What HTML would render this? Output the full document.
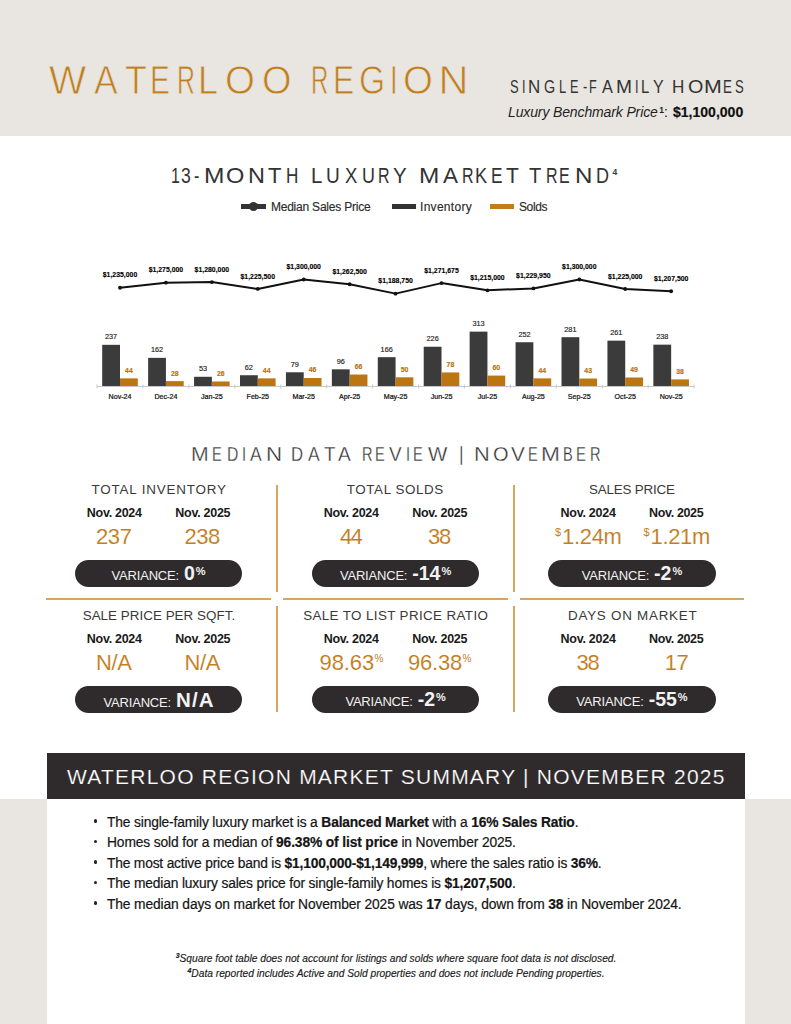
<!DOCTYPE html>
<html><head><meta charset="utf-8"><style>
*{margin:0;padding:0;box-sizing:border-box}
html,body{width:791px;height:1024px;overflow:hidden;background:#fff;font-family:"Liberation Sans",sans-serif}
.t{position:absolute;white-space:nowrap;line-height:1}
.hdr{position:absolute;left:0;top:0;width:791px;height:136px;background:#e9e6e1}
.gb{position:absolute;left:0;top:799px;width:791px;height:225px;background:#e9e6e1}
.wb{position:absolute;left:47px;top:799px;width:698px;height:225px;background:#fff}
.ban{position:absolute;left:47px;top:752.6px;width:698px;height:46.6px;background:#2f2b2c}
.vd{position:absolute;width:2px;background:#d9a45e}
.hd{position:absolute;height:2px;background:#d9a45e}
.pill{position:absolute;width:167.5px;height:27px;border-radius:13.5px;background:#2f2b2c;color:#f2f2f2;display:flex;justify-content:center;align-items:baseline;padding-top:4px;line-height:1}
.vl{font-size:13px;letter-spacing:-0.2px;margin-right:5px}
.vv{font-size:19.5px;font-weight:bold}
.pc{font-size:11px;font-weight:bold;position:relative;top:-5px;margin-left:1px}
svg text{font-family:"Liberation Sans",sans-serif;text-anchor:middle}
.pl{font-size:6.9px;font-weight:bold;fill:#000;stroke:#000;stroke-width:0.12px}
.bl{font-size:7.3px;font-weight:normal;fill:#222;stroke:#222;stroke-width:0.15px}
.sl{font-size:6.9px;font-weight:bold;fill:#b8720e;stroke:#b8720e;stroke-width:0.15px}
.cl{font-size:7.1px;fill:#111;stroke:#111;stroke-width:0.22px}
.sup{position:absolute;line-height:1;white-space:nowrap}
.bdot{position:absolute;left:93.8px;width:3.4px;height:3.4px;border-radius:50%;background:#222}
.bul{position:absolute;left:107px;font-size:13.8px;line-height:1;color:#151515;-webkit-text-stroke:0.2px #151515;white-space:nowrap}
.bul b{font-weight:bold}
.fn{position:absolute;left:47px;width:698px;text-align:center;font-size:10.23px;font-style:italic;color:#1a1a1a;-webkit-text-stroke:0.15px #1a1a1a;line-height:1;white-space:nowrap}
</style></head><body>
<div class="hdr"></div>
<div class="gb"></div><div class="wb"></div>
<div class="ban"></div>
<div class="t" style="left:508.00px;top:105.38px;font-size:14px;font-weight:normal;font-style:italic;color:#1f1f1f;letter-spacing:-0.129px;">Luxury Benchmark Price</div>
<div class="t" style="left:664.00px;top:105.38px;font-size:14px;font-weight:normal;font-style:normal;color:#1f1f1f;letter-spacing:0.000px;">:</div>
<div class="t" style="left:673.00px;top:105.38px;font-size:14px;font-weight:bold;font-style:normal;color:#111;letter-spacing:0.013px;-webkit-text-stroke:0.2px #111;">$1,100,000</div>
<div class="t" style="left:659.30px;top:105.65px;font-size:8.5px;font-weight:bold;font-style:normal;color:#1f1f1f;letter-spacing:0.000px;">1</div>
<div class="t" style="left:612.50px;top:168.15px;font-size:8.5px;font-weight:bold;font-style:normal;color:#3a3939;letter-spacing:0.000px;">4</div>
<div class="t" style="left:270.90px;top:200.70px;font-size:12px;font-weight:normal;font-style:normal;color:#2a2a2a;letter-spacing:-0.212px;-webkit-text-stroke:0.15px #2a2a2a;">Median Sales Price</div>
<div class="t" style="left:420.00px;top:200.70px;font-size:12px;font-weight:normal;font-style:normal;color:#2a2a2a;letter-spacing:0.293px;-webkit-text-stroke:0.15px #2a2a2a;">Inventory</div>
<div class="t" style="left:519.00px;top:200.70px;font-size:12px;font-weight:normal;font-style:normal;color:#2a2a2a;letter-spacing:-0.379px;-webkit-text-stroke:0.15px #2a2a2a;">Solds</div>
<div class="t" style="left:91.50px;top:483.28px;font-size:13.4px;font-weight:normal;font-style:normal;color:#3a3939;letter-spacing:0.833px;">TOTAL INVENTORY</div>
<div class="t" style="left:346.80px;top:483.28px;font-size:13.4px;font-weight:normal;font-style:normal;color:#3a3939;letter-spacing:0.590px;">TOTAL SOLDS</div>
<div class="t" style="left:589.00px;top:483.28px;font-size:13.4px;font-weight:normal;font-style:normal;color:#3a3939;letter-spacing:-0.189px;">SALES PRICE</div>
<div class="t" style="left:82.70px;top:608.68px;font-size:13.4px;font-weight:normal;font-style:normal;color:#3a3939;letter-spacing:0.033px;">SALE PRICE PER SQFT.</div>
<div class="t" style="left:303.20px;top:608.68px;font-size:13.4px;font-weight:normal;font-style:normal;color:#3a3939;letter-spacing:0.375px;">SALE TO LIST PRICE RATIO</div>
<div class="t" style="left:568.00px;top:608.68px;font-size:13.4px;font-weight:normal;font-style:normal;color:#3a3939;letter-spacing:0.760px;">DAYS ON MARKET</div>
<div class="t" style="left:86.80px;top:507.12px;font-size:12.5px;font-weight:bold;font-style:normal;color:#1a1a1a;letter-spacing:-0.286px;">Nov. 2024</div>
<div class="t" style="left:175.30px;top:507.12px;font-size:12.5px;font-weight:bold;font-style:normal;color:#1a1a1a;letter-spacing:-0.274px;">Nov. 2025</div>
<div class="t" style="left:323.70px;top:507.12px;font-size:12.5px;font-weight:bold;font-style:normal;color:#1a1a1a;letter-spacing:-0.274px;">Nov. 2024</div>
<div class="t" style="left:412.20px;top:507.12px;font-size:12.5px;font-weight:bold;font-style:normal;color:#1a1a1a;letter-spacing:-0.274px;">Nov. 2025</div>
<div class="t" style="left:560.60px;top:507.12px;font-size:12.5px;font-weight:bold;font-style:normal;color:#1a1a1a;letter-spacing:-0.274px;">Nov. 2024</div>
<div class="t" style="left:649.00px;top:507.12px;font-size:12.5px;font-weight:bold;font-style:normal;color:#1a1a1a;letter-spacing:-0.349px;">Nov. 2025</div>
<div class="t" style="left:86.80px;top:632.52px;font-size:12.5px;font-weight:bold;font-style:normal;color:#1a1a1a;letter-spacing:-0.286px;">Nov. 2024</div>
<div class="t" style="left:175.30px;top:632.52px;font-size:12.5px;font-weight:bold;font-style:normal;color:#1a1a1a;letter-spacing:-0.274px;">Nov. 2025</div>
<div class="t" style="left:323.70px;top:632.52px;font-size:12.5px;font-weight:bold;font-style:normal;color:#1a1a1a;letter-spacing:-0.274px;">Nov. 2024</div>
<div class="t" style="left:412.20px;top:632.52px;font-size:12.5px;font-weight:bold;font-style:normal;color:#1a1a1a;letter-spacing:-0.274px;">Nov. 2025</div>
<div class="t" style="left:560.60px;top:632.52px;font-size:12.5px;font-weight:bold;font-style:normal;color:#1a1a1a;letter-spacing:-0.274px;">Nov. 2024</div>
<div class="t" style="left:649.00px;top:632.52px;font-size:12.5px;font-weight:bold;font-style:normal;color:#1a1a1a;letter-spacing:-0.349px;">Nov. 2025</div>
<div class="t" style="left:96.00px;top:525.92px;font-size:22px;font-weight:normal;font-style:normal;color:#c47d1a;letter-spacing:-0.385px;-webkit-text-stroke:0.1px #fff;">237</div>
<div class="t" style="left:184.40px;top:525.92px;font-size:22px;font-weight:normal;font-style:normal;color:#c47d1a;letter-spacing:-0.435px;-webkit-text-stroke:0.1px #fff;">238</div>
<div class="t" style="left:340.00px;top:525.92px;font-size:22px;font-weight:normal;font-style:normal;color:#c47d1a;letter-spacing:-1.635px;-webkit-text-stroke:0.1px #fff;">44</div>
<div class="t" style="left:428.00px;top:525.92px;font-size:22px;font-weight:normal;font-style:normal;color:#c47d1a;letter-spacing:-1.235px;-webkit-text-stroke:0.1px #fff;">38</div>
<div class="t" style="left:562.00px;top:525.92px;font-size:22px;font-weight:normal;font-style:normal;color:#c47d1a;letter-spacing:-0.305px;-webkit-text-stroke:0.1px #fff;">1.24m</div>
<div class="t" style="left:650.50px;top:525.92px;font-size:22px;font-weight:normal;font-style:normal;color:#c47d1a;letter-spacing:-0.330px;-webkit-text-stroke:0.1px #fff;">1.21m</div>
<div class="t" style="left:95.90px;top:652.22px;font-size:22px;font-weight:normal;font-style:normal;color:#c47d1a;letter-spacing:-0.300px;-webkit-text-stroke:0.1px #fff;">N/A</div>
<div class="t" style="left:184.40px;top:652.22px;font-size:22px;font-weight:normal;font-style:normal;color:#c47d1a;letter-spacing:-0.300px;-webkit-text-stroke:0.1px #fff;">N/A</div>
<div class="t" style="left:319.60px;top:652.22px;font-size:22px;font-weight:normal;font-style:normal;color:#c47d1a;letter-spacing:-0.105px;-webkit-text-stroke:0.1px #fff;">98.63</div>
<div class="t" style="left:408.00px;top:652.22px;font-size:22px;font-weight:normal;font-style:normal;color:#c47d1a;letter-spacing:-0.205px;-webkit-text-stroke:0.1px #fff;">96.38</div>
<div class="t" style="left:576.40px;top:652.22px;font-size:22px;font-weight:normal;font-style:normal;color:#c47d1a;letter-spacing:-1.235px;-webkit-text-stroke:0.1px #fff;">38</div>
<div class="t" style="left:664.80px;top:652.22px;font-size:22px;font-weight:normal;font-style:normal;color:#c47d1a;letter-spacing:-0.435px;-webkit-text-stroke:0.1px #fff;">17</div>
<div class="t" style="left:67.00px;top:765.67px;font-size:21px;font-weight:normal;font-style:normal;color:#ffffff;letter-spacing:1.237px;-webkit-text-stroke:0.2px #2f2b2c;">WATERLOO REGION MARKET SUMMARY | NOVEMBER 2025</div>
<div class="t" style="left:170.52px;top:165.48px;font-size:22.2px;color:#333;transform:scaleX(0.720);transform-origin:0 0;">1</div>
<div class="t" style="left:180.80px;top:165.48px;font-size:22.2px;color:#333;transform:scaleX(0.792);transform-origin:0 0;">3</div>
<div class="t" style="left:194.38px;top:165.48px;font-size:22.2px;color:#333;transform:scaleX(0.720);transform-origin:0 0;">-</div>
<div class="t" style="left:203.69px;top:165.48px;font-size:22.2px;color:#333;transform:scaleX(1.106);transform-origin:0 0;">M</div>
<div class="t" style="left:225.94px;top:165.48px;font-size:22.2px;color:#333;transform:scaleX(1.062);transform-origin:0 0;">O</div>
<div class="t" style="left:247.94px;top:165.48px;font-size:22.2px;color:#333;transform:scaleX(1.057);transform-origin:0 0;">N</div>
<div class="t" style="left:268.30px;top:165.48px;font-size:22.2px;color:#333;transform:scaleX(0.993);transform-origin:0 0;">T</div>
<div class="t" style="left:286.43px;top:165.48px;font-size:22.2px;color:#333;transform:scaleX(0.771);transform-origin:0 0;">H</div>
<div class="t" style="left:310.98px;top:165.48px;font-size:22.2px;color:#333;transform:scaleX(0.918);transform-origin:0 0;">L</div>
<div class="t" style="left:326.14px;top:165.48px;font-size:22.2px;color:#333;transform:scaleX(0.857);transform-origin:0 0;">U</div>
<div class="t" style="left:345.20px;top:165.48px;font-size:22.2px;color:#333;transform:scaleX(0.833);transform-origin:0 0;">X</div>
<div class="t" style="left:361.99px;top:165.48px;font-size:22.2px;color:#333;transform:scaleX(0.807);transform-origin:0 0;">U</div>
<div class="t" style="left:378.49px;top:165.48px;font-size:22.2px;color:#333;transform:scaleX(0.720);transform-origin:0 0;">R</div>
<div class="t" style="left:392.50px;top:165.48px;font-size:22.2px;color:#333;transform:scaleX(0.927);transform-origin:0 0;">Y</div>
<div class="t" style="left:418.50px;top:165.48px;font-size:22.2px;color:#333;transform:scaleX(1.100);transform-origin:0 0;">M</div>
<div class="t" style="left:442.60px;top:165.48px;font-size:22.2px;color:#333;transform:scaleX(1.013);transform-origin:0 0;">A</div>
<div class="t" style="left:462.09px;top:165.48px;font-size:22.2px;color:#333;transform:scaleX(0.720);transform-origin:0 0;">R</div>
<div class="t" style="left:475.18px;top:165.48px;font-size:22.2px;color:#333;transform:scaleX(0.821);transform-origin:0 0;">K</div>
<div class="t" style="left:491.12px;top:165.48px;font-size:22.2px;color:#333;transform:scaleX(0.777);transform-origin:0 0;">E</div>
<div class="t" style="left:505.80px;top:165.48px;font-size:22.2px;color:#333;transform:scaleX(0.950);transform-origin:0 0;">T</div>
<div class="t" style="left:529.40px;top:165.48px;font-size:22.2px;color:#333;transform:scaleX(0.907);transform-origin:0 0;">T</div>
<div class="t" style="left:546.14px;top:165.48px;font-size:22.2px;color:#333;transform:scaleX(0.720);transform-origin:0 0;">R</div>
<div class="t" style="left:559.08px;top:165.48px;font-size:22.2px;color:#333;transform:scaleX(0.723);transform-origin:0 0;">E</div>
<div class="t" style="left:575.11px;top:165.48px;font-size:22.2px;color:#333;transform:scaleX(1.086);transform-origin:0 0;">N</div>
<div class="t" style="left:596.19px;top:165.48px;font-size:22.2px;color:#333;transform:scaleX(0.814);transform-origin:0 0;">D</div>
<div class="t" style="left:190.95px;top:443.58px;font-size:20.3px;color:#333;transform:scaleX(1.047);transform-origin:0 0;-webkit-text-stroke:0.3px #fff">M</div>
<div class="t" style="left:211.81px;top:443.58px;font-size:20.3px;color:#333;transform:scaleX(0.720);transform-origin:0 0;-webkit-text-stroke:0.3px #fff">E</div>
<div class="t" style="left:226.62px;top:443.58px;font-size:20.3px;color:#333;transform:scaleX(0.777);transform-origin:0 0;-webkit-text-stroke:0.3px #fff">D</div>
<div class="t" style="left:242.05px;top:443.58px;font-size:20.3px;color:#333;transform:scaleX(0.720);transform-origin:0 0;-webkit-text-stroke:0.3px #fff">I</div>
<div class="t" style="left:249.70px;top:443.58px;font-size:20.3px;color:#333;transform:scaleX(0.864);transform-origin:0 0;-webkit-text-stroke:0.3px #fff">A</div>
<div class="t" style="left:265.90px;top:443.58px;font-size:20.3px;color:#333;transform:scaleX(1.100);transform-origin:0 0;-webkit-text-stroke:0.3px #fff">N</div>
<div class="t" style="left:291.48px;top:443.58px;font-size:20.3px;color:#333;transform:scaleX(0.823);transform-origin:0 0;-webkit-text-stroke:0.3px #fff">D</div>
<div class="t" style="left:308.00px;top:443.58px;font-size:20.3px;color:#333;transform:scaleX(0.864);transform-origin:0 0;-webkit-text-stroke:0.3px #fff">A</div>
<div class="t" style="left:323.70px;top:443.58px;font-size:20.3px;color:#333;transform:scaleX(0.925);transform-origin:0 0;-webkit-text-stroke:0.3px #fff">T</div>
<div class="t" style="left:338.00px;top:443.58px;font-size:20.3px;color:#333;transform:scaleX(0.943);transform-origin:0 0;-webkit-text-stroke:0.3px #fff">A</div>
<div class="t" style="left:361.70px;top:443.58px;font-size:20.3px;color:#333;transform:scaleX(0.720);transform-origin:0 0;-webkit-text-stroke:0.3px #fff">R</div>
<div class="t" style="left:374.96px;top:443.58px;font-size:20.3px;color:#333;transform:scaleX(0.720);transform-origin:0 0;-webkit-text-stroke:0.3px #fff">E</div>
<div class="t" style="left:388.60px;top:443.58px;font-size:20.3px;color:#333;transform:scaleX(0.936);transform-origin:0 0;-webkit-text-stroke:0.3px #fff">V</div>
<div class="t" style="left:405.50px;top:443.58px;font-size:20.3px;color:#333;transform:scaleX(0.720);transform-origin:0 0;-webkit-text-stroke:0.3px #fff">I</div>
<div class="t" style="left:412.76px;top:443.58px;font-size:20.3px;color:#333;transform:scaleX(0.720);transform-origin:0 0;-webkit-text-stroke:0.3px #fff">E</div>
<div class="t" style="left:427.70px;top:443.58px;font-size:20.3px;color:#333;transform:scaleX(1.010);transform-origin:0 0;-webkit-text-stroke:0.3px #fff">W</div>
<div class="t" style="left:459.13px;top:443.58px;font-size:20.3px;color:#333;transform:scaleX(0.867);transform-origin:0 0;-webkit-text-stroke:0.3px #fff">|</div>
<div class="t" style="left:474.43px;top:443.58px;font-size:20.3px;color:#333;transform:scaleX(1.075);transform-origin:0 0;-webkit-text-stroke:0.3px #fff">N</div>
<div class="t" style="left:493.10px;top:443.58px;font-size:20.3px;color:#333;transform:scaleX(0.987);transform-origin:0 0;-webkit-text-stroke:0.3px #fff">O</div>
<div class="t" style="left:511.00px;top:443.58px;font-size:20.3px;color:#333;transform:scaleX(1.021);transform-origin:0 0;-webkit-text-stroke:0.3px #fff">V</div>
<div class="t" style="left:528.01px;top:443.58px;font-size:20.3px;color:#333;transform:scaleX(0.720);transform-origin:0 0;-webkit-text-stroke:0.3px #fff">E</div>
<div class="t" style="left:541.38px;top:443.58px;font-size:20.3px;color:#333;transform:scaleX(1.120);transform-origin:0 0;-webkit-text-stroke:0.3px #fff">M</div>
<div class="t" style="left:563.21px;top:443.58px;font-size:20.3px;color:#333;transform:scaleX(0.720);transform-origin:0 0;-webkit-text-stroke:0.3px #fff">B</div>
<div class="t" style="left:576.17px;top:443.58px;font-size:20.3px;color:#333;transform:scaleX(0.733);transform-origin:0 0;-webkit-text-stroke:0.3px #fff">E</div>
<div class="t" style="left:589.80px;top:443.58px;font-size:20.3px;color:#333;transform:scaleX(0.720);transform-origin:0 0;-webkit-text-stroke:0.3px #fff">R</div>
<div class="t" style="left:510.00px;top:78.81px;font-size:17.6px;color:#333;transform:scaleX(0.736);transform-origin:0 0;">S</div>
<div class="t" style="left:521.65px;top:78.81px;font-size:17.6px;color:#333;transform:scaleX(0.720);transform-origin:0 0;">I</div>
<div class="t" style="left:528.34px;top:78.81px;font-size:17.6px;color:#333;transform:scaleX(0.964);transform-origin:0 0;">N</div>
<div class="t" style="left:544.40px;top:78.81px;font-size:17.6px;color:#333;transform:scaleX(0.815);transform-origin:0 0;">G</div>
<div class="t" style="left:559.37px;top:78.81px;font-size:17.6px;color:#333;transform:scaleX(0.733);transform-origin:0 0;">L</div>
<div class="t" style="left:570.43px;top:78.81px;font-size:17.6px;color:#333;transform:scaleX(0.720);transform-origin:0 0;">E</div>
<div class="t" style="left:582.64px;top:78.81px;font-size:17.6px;color:#333;transform:scaleX(0.720);transform-origin:0 0;">-</div>
<div class="t" style="left:589.33px;top:78.81px;font-size:17.6px;color:#333;transform:scaleX(0.720);transform-origin:0 0;">F</div>
<div class="t" style="left:602.30px;top:78.81px;font-size:17.6px;color:#333;transform:scaleX(0.925);transform-origin:0 0;">A</div>
<div class="t" style="left:616.31px;top:78.81px;font-size:17.6px;color:#333;transform:scaleX(1.092);transform-origin:0 0;">M</div>
<div class="t" style="left:634.85px;top:78.81px;font-size:17.6px;color:#333;transform:scaleX(0.720);transform-origin:0 0;">I</div>
<div class="t" style="left:640.86px;top:78.81px;font-size:17.6px;color:#333;transform:scaleX(0.844);transform-origin:0 0;">L</div>
<div class="t" style="left:653.00px;top:78.81px;font-size:17.6px;color:#333;transform:scaleX(0.908);transform-origin:0 0;">Y</div>
<div class="t" style="left:672.43px;top:78.81px;font-size:17.6px;color:#333;transform:scaleX(0.973);transform-origin:0 0;">H</div>
<div class="t" style="left:687.90px;top:78.81px;font-size:17.6px;color:#333;transform:scaleX(1.123);transform-origin:0 0;">O</div>
<div class="t" style="left:703.78px;top:78.81px;font-size:17.6px;color:#333;transform:scaleX(1.215);transform-origin:0 0;">M</div>
<div class="t" style="left:722.54px;top:78.81px;font-size:17.6px;color:#333;transform:scaleX(0.760);transform-origin:0 0;">E</div>
<div class="t" style="left:734.70px;top:78.81px;font-size:17.6px;color:#333;transform:scaleX(0.745);transform-origin:0 0;">S</div>
<div class="t" style="left:48.90px;top:59.03px;font-size:41.5px;color:#c0801f;transform:scaleX(0.948);transform-origin:0 0;-webkit-text-stroke:0.8px #e9e6e1">W</div>
<div class="t" style="left:94.40px;top:59.03px;font-size:41.5px;color:#c0801f;transform:scaleX(0.857);transform-origin:0 0;-webkit-text-stroke:0.8px #e9e6e1">A</div>
<div class="t" style="left:124.70px;top:59.03px;font-size:41.5px;color:#c0801f;transform:scaleX(0.860);transform-origin:0 0;-webkit-text-stroke:0.8px #e9e6e1">T</div>
<div class="t" style="left:150.35px;top:59.03px;font-size:41.5px;color:#c0801f;transform:scaleX(0.717);transform-origin:0 0;-webkit-text-stroke:0.8px #e9e6e1">E</div>
<div class="t" style="left:176.80px;top:59.03px;font-size:41.5px;color:#c0801f;transform:scaleX(0.600);transform-origin:0 0;-webkit-text-stroke:0.8px #e9e6e1">R</div>
<div class="t" style="left:198.41px;top:59.03px;font-size:41.5px;color:#c0801f;transform:scaleX(0.863);transform-origin:0 0;-webkit-text-stroke:0.8px #e9e6e1">L</div>
<div class="t" style="left:225.37px;top:59.03px;font-size:41.5px;color:#c0801f;transform:scaleX(0.927);transform-origin:0 0;-webkit-text-stroke:0.8px #e9e6e1">O</div>
<div class="t" style="left:261.69px;top:59.03px;font-size:41.5px;color:#c0801f;transform:scaleX(0.913);transform-origin:0 0;-webkit-text-stroke:0.8px #e9e6e1">O</div>
<div class="t" style="left:311.27px;top:59.03px;font-size:41.5px;color:#c0801f;transform:scaleX(0.577);transform-origin:0 0;-webkit-text-stroke:0.8px #e9e6e1">R</div>
<div class="t" style="left:333.10px;top:59.03px;font-size:41.5px;color:#c0801f;transform:scaleX(0.765);transform-origin:0 0;-webkit-text-stroke:0.8px #e9e6e1">E</div>
<div class="t" style="left:359.08px;top:59.03px;font-size:41.5px;color:#c0801f;transform:scaleX(0.811);transform-origin:0 0;-webkit-text-stroke:0.8px #e9e6e1">G</div>
<div class="t" style="left:390.32px;top:59.03px;font-size:41.5px;color:#c0801f;transform:scaleX(0.660);transform-origin:0 0;-webkit-text-stroke:0.8px #e9e6e1">I</div>
<div class="t" style="left:402.77px;top:59.03px;font-size:41.5px;color:#c0801f;transform:scaleX(0.927);transform-origin:0 0;-webkit-text-stroke:0.8px #e9e6e1">O</div>
<div class="t" style="left:438.60px;top:59.03px;font-size:41.5px;color:#c0801f;transform:scaleX(1.000);transform-origin:0 0;-webkit-text-stroke:0.8px #e9e6e1">N</div>
<div style="position:absolute;left:241px;top:204.1px;width:24.5px;height:4.5px;background:#333"></div>
<div style="position:absolute;left:249px;top:202px;width:9px;height:9px;border-radius:50%;background:#333"></div>
<div style="position:absolute;left:392px;top:204.1px;width:24px;height:4.5px;background:#333"></div>
<div style="position:absolute;left:490px;top:204.1px;width:24.3px;height:4.5px;background:#c07d1a"></div>
<svg style="position:absolute;left:0;top:0" width="791" height="1024" viewBox="0 0 791 1024">
<rect x="102.20" y="344.83" width="17.8" height="41.17" fill="#3b3b3b"/>
<rect x="120.00" y="378.36" width="17.8" height="7.64" fill="#bb7512"/>
<text x="111.10" y="339.23" class="bl">237</text>
<text x="128.90" y="372.76" class="sl">44</text>
<text x="120.00" y="399.00" class="cl">Nov-24</text>
<text x="120.00" y="277.45" class="pl">$1,235,000</text>
<rect x="148.13" y="357.86" width="17.8" height="28.14" fill="#3b3b3b"/>
<rect x="165.93" y="381.14" width="17.8" height="4.86" fill="#bb7512"/>
<text x="157.03" y="352.26" class="bl">162</text>
<text x="174.83" y="375.54" class="sl">28</text>
<text x="165.93" y="399.00" class="cl">Dec-24</text>
<text x="165.93" y="272.38" class="pl">$1,275,000</text>
<rect x="194.06" y="376.79" width="17.8" height="9.21" fill="#3b3b3b"/>
<rect x="211.86" y="381.48" width="17.8" height="4.52" fill="#bb7512"/>
<text x="202.96" y="371.19" class="bl">53</text>
<text x="220.76" y="375.88" class="sl">26</text>
<text x="211.86" y="399.00" class="cl">Jan-25</text>
<text x="211.86" y="271.74" class="pl">$1,280,000</text>
<rect x="239.99" y="375.23" width="17.8" height="10.77" fill="#3b3b3b"/>
<rect x="257.79" y="378.36" width="17.8" height="7.64" fill="#bb7512"/>
<text x="248.89" y="369.63" class="bl">62</text>
<text x="266.69" y="372.76" class="sl">44</text>
<text x="257.79" y="399.00" class="cl">Feb-25</text>
<text x="257.79" y="278.66" class="pl">$1,225,500</text>
<rect x="285.92" y="372.28" width="17.8" height="13.72" fill="#3b3b3b"/>
<rect x="303.72" y="378.01" width="17.8" height="7.99" fill="#bb7512"/>
<text x="294.82" y="366.68" class="bl">79</text>
<text x="312.62" y="372.41" class="sl">46</text>
<text x="303.72" y="399.00" class="cl">Mar-25</text>
<text x="303.72" y="269.20" class="pl">$1,300,000</text>
<rect x="331.85" y="369.32" width="17.8" height="16.68" fill="#3b3b3b"/>
<rect x="349.65" y="374.54" width="17.8" height="11.46" fill="#bb7512"/>
<text x="340.75" y="363.72" class="bl">96</text>
<text x="358.55" y="368.94" class="sl">66</text>
<text x="349.65" y="399.00" class="cl">Apr-25</text>
<text x="349.65" y="273.96" class="pl">$1,262,500</text>
<rect x="377.78" y="357.17" width="17.8" height="28.83" fill="#3b3b3b"/>
<rect x="395.58" y="377.31" width="17.8" height="8.69" fill="#bb7512"/>
<text x="386.68" y="351.57" class="bl">166</text>
<text x="404.48" y="371.71" class="sl">50</text>
<text x="395.58" y="399.00" class="cl">May-25</text>
<text x="395.58" y="283.33" class="pl">$1,188,750</text>
<rect x="423.71" y="346.74" width="17.8" height="39.26" fill="#3b3b3b"/>
<rect x="441.51" y="372.45" width="17.8" height="13.55" fill="#bb7512"/>
<text x="432.61" y="341.14" class="bl">226</text>
<text x="450.41" y="366.85" class="sl">78</text>
<text x="441.51" y="399.00" class="cl">Jun-25</text>
<text x="441.51" y="272.80" class="pl">$1,271,675</text>
<rect x="469.64" y="331.63" width="17.8" height="54.37" fill="#3b3b3b"/>
<rect x="487.44" y="375.58" width="17.8" height="10.42" fill="#bb7512"/>
<text x="478.54" y="326.03" class="bl">313</text>
<text x="496.34" y="369.98" class="sl">60</text>
<text x="487.44" y="399.00" class="cl">Jul-25</text>
<text x="487.44" y="280.00" class="pl">$1,215,000</text>
<rect x="515.57" y="342.23" width="17.8" height="43.77" fill="#3b3b3b"/>
<rect x="533.37" y="378.36" width="17.8" height="7.64" fill="#bb7512"/>
<text x="524.47" y="336.63" class="bl">252</text>
<text x="542.27" y="372.76" class="sl">44</text>
<text x="533.37" y="399.00" class="cl">Aug-25</text>
<text x="533.37" y="278.10" class="pl">$1,229,950</text>
<rect x="561.50" y="337.19" width="17.8" height="48.81" fill="#3b3b3b"/>
<rect x="579.30" y="378.53" width="17.8" height="7.47" fill="#bb7512"/>
<text x="570.40" y="331.59" class="bl">281</text>
<text x="588.20" y="372.93" class="sl">43</text>
<text x="579.30" y="399.00" class="cl">Sep-25</text>
<text x="579.30" y="269.20" class="pl">$1,300,000</text>
<rect x="607.43" y="340.66" width="17.8" height="45.34" fill="#3b3b3b"/>
<rect x="625.23" y="377.49" width="17.8" height="8.51" fill="#bb7512"/>
<text x="616.33" y="335.06" class="bl">261</text>
<text x="634.13" y="371.89" class="sl">49</text>
<text x="625.23" y="399.00" class="cl">Oct-25</text>
<text x="625.23" y="278.72" class="pl">$1,225,000</text>
<rect x="653.36" y="344.66" width="17.8" height="41.34" fill="#3b3b3b"/>
<rect x="671.16" y="379.40" width="17.8" height="6.60" fill="#bb7512"/>
<text x="662.26" y="339.06" class="bl">238</text>
<text x="680.06" y="373.80" class="sl">38</text>
<text x="671.16" y="399.00" class="cl">Nov-25</text>
<text x="671.16" y="280.95" class="pl">$1,207,500</text>
<line x1="97" y1="386.5" x2="694.16" y2="386.5" stroke="#c8c8c8" stroke-width="1"/>
<line x1="97.00" y1="384.5" x2="97.00" y2="388.5" stroke="#c8c8c8" stroke-width="1"/>
<line x1="142.93" y1="384.5" x2="142.93" y2="388.5" stroke="#c8c8c8" stroke-width="1"/>
<line x1="188.86" y1="384.5" x2="188.86" y2="388.5" stroke="#c8c8c8" stroke-width="1"/>
<line x1="234.79" y1="384.5" x2="234.79" y2="388.5" stroke="#c8c8c8" stroke-width="1"/>
<line x1="280.72" y1="384.5" x2="280.72" y2="388.5" stroke="#c8c8c8" stroke-width="1"/>
<line x1="326.65" y1="384.5" x2="326.65" y2="388.5" stroke="#c8c8c8" stroke-width="1"/>
<line x1="372.58" y1="384.5" x2="372.58" y2="388.5" stroke="#c8c8c8" stroke-width="1"/>
<line x1="418.51" y1="384.5" x2="418.51" y2="388.5" stroke="#c8c8c8" stroke-width="1"/>
<line x1="464.44" y1="384.5" x2="464.44" y2="388.5" stroke="#c8c8c8" stroke-width="1"/>
<line x1="510.37" y1="384.5" x2="510.37" y2="388.5" stroke="#c8c8c8" stroke-width="1"/>
<line x1="556.30" y1="384.5" x2="556.30" y2="388.5" stroke="#c8c8c8" stroke-width="1"/>
<line x1="602.23" y1="384.5" x2="602.23" y2="388.5" stroke="#c8c8c8" stroke-width="1"/>
<line x1="648.16" y1="384.5" x2="648.16" y2="388.5" stroke="#c8c8c8" stroke-width="1"/>
<line x1="694.09" y1="384.5" x2="694.09" y2="388.5" stroke="#c8c8c8" stroke-width="1"/>
<polyline points="120.00,287.75 165.93,282.68 211.86,282.04 257.79,288.96 303.72,279.50 349.65,284.26 395.58,293.63 441.51,283.10 487.44,290.30 533.37,288.40 579.30,279.50 625.23,289.02 671.16,291.25" fill="none" stroke="#111" stroke-width="2" stroke-linejoin="round"/>
<circle cx="120.00" cy="287.75" r="1.9" fill="#111"/>
<circle cx="165.93" cy="282.68" r="1.9" fill="#111"/>
<circle cx="211.86" cy="282.04" r="1.9" fill="#111"/>
<circle cx="257.79" cy="288.96" r="1.9" fill="#111"/>
<circle cx="303.72" cy="279.50" r="1.9" fill="#111"/>
<circle cx="349.65" cy="284.26" r="1.9" fill="#111"/>
<circle cx="395.58" cy="293.63" r="1.9" fill="#111"/>
<circle cx="441.51" cy="283.10" r="1.9" fill="#111"/>
<circle cx="487.44" cy="290.30" r="1.9" fill="#111"/>
<circle cx="533.37" cy="288.40" r="1.9" fill="#111"/>
<circle cx="579.30" cy="279.50" r="1.9" fill="#111"/>
<circle cx="625.23" cy="289.02" r="1.9" fill="#111"/>
<circle cx="671.16" cy="291.25" r="1.9" fill="#111"/>
</svg>
<div class="vd" style="left:276px;top:484.8px;height:107px"></div>
<div class="vd" style="left:513px;top:484.8px;height:107px"></div>
<div class="vd" style="left:276px;top:605.6px;height:106.6px"></div>
<div class="vd" style="left:513px;top:605.6px;height:106.6px"></div>
<div class="hd" style="left:46.3px;top:598px;width:224.9px"></div>
<div class="hd" style="left:282.6px;top:598px;width:225.1px"></div>
<div class="hd" style="left:520px;top:598px;width:224px"></div>
<div class="sup" style="left:555px;top:527px;font-size:11px;color:#c47d1a">$</div>
<div class="sup" style="left:643.4px;top:527px;font-size:11px;color:#c47d1a">$</div>
<div class="sup" style="left:374.5px;top:654px;font-size:10px;color:#c47d1a">%</div>
<div class="sup" style="left:462.5px;top:654px;font-size:10px;color:#c47d1a">%</div>
<div class="pill" style="left:74.85px;top:560.2px;"><span class="vl">VARIANCE:</span><span class="vv">0</span><span class="pc">%</span></div><div class="pill" style="left:311.85px;top:560.2px;"><span class="vl">VARIANCE:</span><span class="vv">-14</span><span class="pc">%</span></div><div class="pill" style="left:548.25px;top:560.2px;"><span class="vl">VARIANCE:</span><span class="vv">-2</span><span class="pc">%</span></div><div class="pill" style="left:74.85px;top:686px;"><span class="vl">VARIANCE:</span><span class="vv"><span style="letter-spacing:1.2px;margin-right:-1.2px;font-size:20.5px">N/A</span></span></div><div class="pill" style="left:311.85px;top:686px;"><span class="vl">VARIANCE:</span><span class="vv">-2</span><span class="pc">%</span></div><div class="pill" style="left:548.25px;top:686px;"><span class="vl">VARIANCE:</span><span class="vv">-55</span><span class="pc">%</span></div>
<div class="bdot" style="top:819.30px"></div><div class="bul" style="top:815.72px;letter-spacing:-0.155px">The single-family luxury market is a <b>Balanced Market</b> with a <b>16% Sales Ratio</b>.</div>
<div class="bdot" style="top:839.80px"></div><div class="bul" style="top:836.22px;letter-spacing:-0.13px">Homes sold for a median of <b>96.38% of list price</b> in November 2025.</div>
<div class="bdot" style="top:860.30px"></div><div class="bul" style="top:856.72px;letter-spacing:-0.19px">The most active price band is <b>$1,100,000-$1,149,999</b>, where the sales ratio is <b>36%</b>.</div>
<div class="bdot" style="top:880.80px"></div><div class="bul" style="top:877.22px;letter-spacing:-0.16px">The median luxury sales price for single-family homes is <b>$1,207,500</b>.</div>
<div class="bdot" style="top:901.30px"></div><div class="bul" style="top:897.72px;letter-spacing:-0.122px">The median days on market for November 2025 was <b>17</b> days, down from <b>38</b> in November 2024.</div>
<div class="fn" style="top:952px"><sup style="font-size:7px;font-weight:bold">3</sup>Square foot table does not account for listings and solds where square foot data is not disclosed.</div>
<div class="fn" style="top:967.4px"><sup style="font-size:7px;font-weight:bold">4</sup>Data reported includes Active and Sold properties and does not include Pending properties.</div>
</body></html>
